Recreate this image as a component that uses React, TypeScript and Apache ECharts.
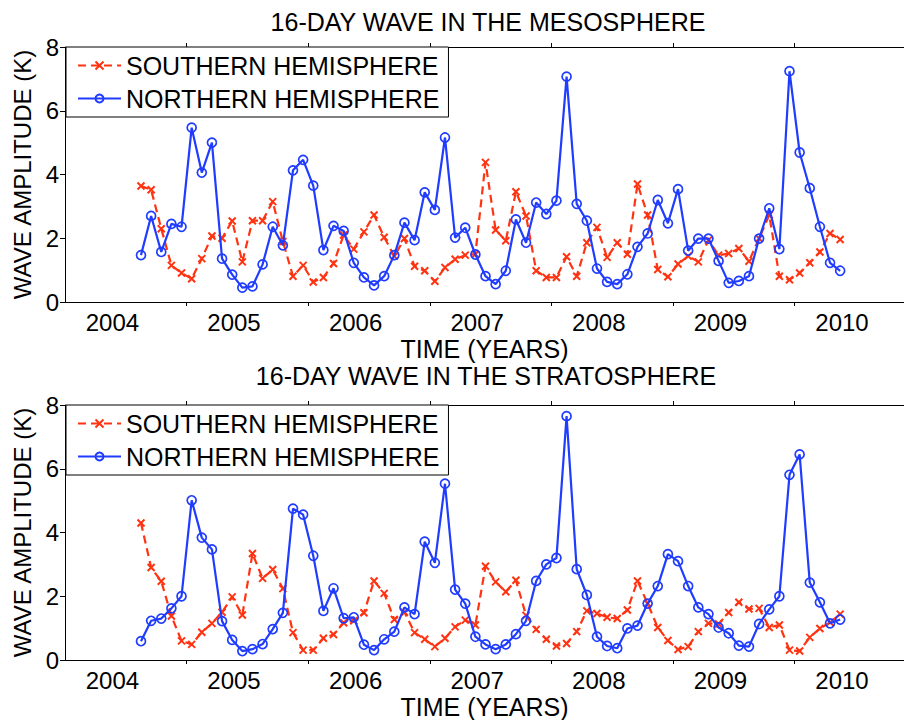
import React, { useEffect, useRef } from 'react';
import * as echarts from 'echarts';

// First monthly sample: August 2004 (one value per month)
const FIRST_YEAR = 2004;
const FIRST_MONTH = 8;

const mesoSouth = [
  3.64, 3.52, 2.3, 1.15, 0.91, 0.73, 1.36, 2.07, 2.0, 2.54,
  1.26, 2.55, 2.55, 3.15, 1.9, 0.81, 1.15, 0.63, 0.77, 1.21,
  2.1, 1.66, 2.2, 2.73, 2.03, 1.44, 1.99, 1.12, 0.98, 0.65,
  1.08, 1.34, 1.47, 1.5, 4.38, 2.26, 1.92, 3.46, 2.7, 0.98,
  0.77, 0.77, 1.42, 0.81, 1.86, 2.34, 1.4, 1.86, 1.5, 3.7,
  2.73, 1.02, 0.79, 1.19, 1.44, 1.26, 1.94, 1.47, 1.52, 1.68,
  1.28, 1.99, 2.73, 0.81, 0.7, 0.91, 1.23, 1.57, 2.15, 1.96,
];
const mesoNorth = [
  1.47, 2.7, 1.57, 2.45, 2.36, 5.47, 4.06, 5.0, 1.36, 0.86,
  0.45, 0.49, 1.18, 2.36, 1.78, 4.13, 4.46, 3.65, 1.63, 2.39,
  2.23, 1.23, 0.77, 0.52, 0.81, 1.47, 2.49, 1.94, 3.44, 2.89,
  5.16, 2.02, 2.33, 1.49, 0.81, 0.56, 0.98, 2.59, 1.86, 3.12,
  2.76, 3.18, 7.07, 3.08, 2.55, 1.05, 0.63, 0.56, 0.87, 1.73,
  2.15, 3.2, 2.47, 3.54, 1.61, 1.99, 1.99, 1.29, 0.6, 0.66,
  0.81, 1.99, 2.94, 1.66, 7.24, 4.69, 3.57, 2.36, 1.23, 0.98,
];
const stratoSouth = [
  4.3, 2.9, 2.47, 1.38, 0.6, 0.49, 0.87, 1.15, 1.5, 1.98,
  1.41, 3.34, 2.56, 2.84, 2.24, 0.86, 0.31, 0.31, 0.68, 0.8,
  1.17, 1.23, 1.48, 2.48, 2.09, 1.27, 1.5, 0.86, 0.65, 0.42,
  0.68, 1.04, 1.25, 1.1, 2.94, 2.45, 2.14, 2.5, 1.4, 0.96,
  0.65, 0.44, 0.52, 0.89, 1.54, 1.46, 1.34, 1.3, 1.57, 2.48,
  1.77, 1.02, 0.61, 0.33, 0.42, 0.89, 1.15, 1.13, 1.49, 1.81,
  1.6, 1.62, 1.02, 1.1, 0.31, 0.28, 0.71, 0.99, 1.18, 1.44,
];
const stratoNorth = [
  0.59, 1.23, 1.3, 1.62, 2.0, 5.01, 3.84, 3.47, 1.22, 0.63,
  0.28, 0.34, 0.5, 0.97, 1.48, 4.75, 4.56, 3.27, 1.54, 2.25,
  1.31, 1.34, 0.48, 0.31, 0.65, 0.89, 1.65, 1.44, 3.71, 3.05,
  5.53, 2.21, 1.77, 0.73, 0.49, 0.34, 0.49, 0.81, 1.23, 2.48,
  3.0, 3.2, 7.65, 2.85, 2.04, 0.73, 0.44, 0.37, 0.99, 1.08,
  1.77, 2.32, 3.32, 3.1, 2.32, 1.65, 1.44, 1.02, 0.84, 0.45,
  0.42, 1.13, 1.59, 2.0, 5.81, 6.45, 2.43, 1.81, 1.15, 1.27,
];

const yearLabels = [2004, 2005, 2006, 2007, 2008, 2009, 2010];
const yearTicks = [2005, 2006, 2007, 2008, 2009, 2010];

const SOUTH = 'SOUTHERN HEMISPHERE';
const NORTH = 'NORTHERN HEMISPHERE';
const panelTitles = ['16-DAY WAVE IN THE MESOSPHERE', '16-DAY WAVE IN THE STRATOSPHERE'];
const X_TITLE = 'TIME (YEARS)';
const Y_TITLE = 'WAVE AMPLITUDE (K)';

const RED = '#ff3311';
const BLUE = '#1f3cff';
const FONT = '"Liberation Sans", Arial, Helvetica, sans-serif';
const FS = 24;
const FS_BIG = 25;
const X_MIN = 2004;
const X_MAX = 2010.9;
const LABEL_SHIFT = 0.39;
const X_SYMBOL = 'path://M0,0L10,10M10,0L0,10';

const toXY = (vals: number[]) =>
  vals.map((v, i) => [FIRST_YEAR + (FIRST_MONTH - 1 + i + 0.5) / 12, v]);

const grids = [
  { left: 65, top: 47, width: 839, height: 255 },
  { left: 65, top: 405, width: 839, height: 255 },
];

function buildOption() {
  const xAxes: any[] = [];
  const yAxes: any[] = [];
  grids.forEach((_, g) => {
    xAxes.push({
      gridIndex: g,
      type: 'value',
      position: 'bottom',
      min: X_MIN,
      max: X_MAX,
      axisLine: { show: true, onZero: false, lineStyle: { color: '#000', width: 1 } },
      axisTick: { show: true, inside: false, length: 4, customValues: yearTicks, lineStyle: { color: '#000' } },
      axisLabel: {
        show: true,
        customValues: yearLabels.map((y) => y + LABEL_SHIFT),
        formatter: (v: number) => String(Math.floor(v)),
        fontSize: FS,
        fontFamily: FONT,
        color: '#000',
        margin: 8,
        hideOverlap: false,
      },
      splitLine: { show: false },
      name: X_TITLE,
      nameLocation: 'middle',
      nameGap: 34,
      nameTextStyle: { fontSize: FS_BIG, fontFamily: FONT, color: '#000' },
    });
    xAxes.push({
      gridIndex: g,
      type: 'value',
      position: 'top',
      min: X_MIN,
      max: X_MAX,
      axisLine: { show: true, onZero: false, lineStyle: { color: '#000', width: 1 } },
      axisTick: { show: true, inside: false, length: 4, customValues: yearTicks, lineStyle: { color: '#000' } },
      axisLabel: { show: false },
      splitLine: { show: false },
    });
    yAxes.push({
      gridIndex: g,
      type: 'value',
      min: 0,
      max: 8,
      interval: 2,
      axisLine: { show: true, onZero: false, lineStyle: { color: '#000', width: 1 } },
      axisTick: { show: true, inside: false, length: 5, lineStyle: { color: '#000' } },
      axisLabel: { fontSize: FS, fontFamily: FONT, color: '#000', margin: 6 },
      splitLine: { show: false },
      name: Y_TITLE,
      nameLocation: 'middle',
      nameRotate: 90,
      nameGap: 29,
      nameTextStyle: { fontSize: FS, fontFamily: FONT, color: '#000' },
    });
  });

  const panels = [
    { south: mesoSouth, north: mesoNorth },
    { south: stratoSouth, north: stratoNorth },
  ];
  const series: any[] = [];
  panels.forEach((p, g) => {
    series.push({
      name: SOUTH,
      type: 'line',
      xAxisIndex: g * 2,
      yAxisIndex: g,
      data: toXY(p.south),
      symbol: X_SYMBOL,
      symbolSize: 7,
      lineStyle: { color: RED, width: 2.2, type: [8, 5] },
      itemStyle: { color: 'rgba(0,0,0,0)', borderColor: RED, borderWidth: 2 },
      z: 2,
    });
    series.push({
      name: NORTH,
      type: 'line',
      xAxisIndex: g * 2,
      yAxisIndex: g,
      data: toXY(p.north),
      symbol: 'circle',
      symbolSize: 9,
      lineStyle: { color: BLUE, width: 2.2 },
      itemStyle: { color: 'rgba(0,0,0,0)', borderColor: BLUE, borderWidth: 1.7 },
      z: 3,
    });
  });

  const legends = grids.map((gr) => ({
    left: 66,
    top: gr.top,
    orient: 'vertical',
    data: [SOUTH, NORTH],
    backgroundColor: '#fff',
    borderColor: '#000',
    borderWidth: 1,
    borderRadius: 0,
    padding: [6, 9, 6, 11],
    itemGap: 8,
    itemWidth: 43,
    itemHeight: 10,
    selectedMode: false,
    textStyle: { fontSize: FS_BIG, fontFamily: FONT, color: '#000', lineHeight: 24 },
  }));

  const titleCenters = [
    { x: 488, y: 22 },
    { x: 486, y: 376 },
  ];

  return {
    animation: false,
    backgroundColor: '#fff',
    grid: grids,
    xAxis: xAxes,
    yAxis: yAxes,
    legend: legends,
    series,
    graphic: panelTitles.map((t, i) => ({
      type: 'text',
      x: titleCenters[i].x,
      y: titleCenters[i].y,
      style: {
        text: t,
        fontSize: FS_BIG,
        fontFamily: FONT,
        fill: '#000',
        align: 'center',
        verticalAlign: 'middle',
      },
    })),
  };
}

export default function App() {
  const ref = useRef<HTMLDivElement>(null);
  useEffect(() => {
    if (!ref.current) return;
    const chart = echarts.init(ref.current, null, { renderer: 'svg' });
    chart.setOption(buildOption() as any);
    return () => chart.dispose();
  }, []);
  return (
    <div
      ref={ref}
      style={{ position: 'fixed', left: 0, top: 0, width: 904, height: 720, background: '#fff' }}
    />
  );
}
